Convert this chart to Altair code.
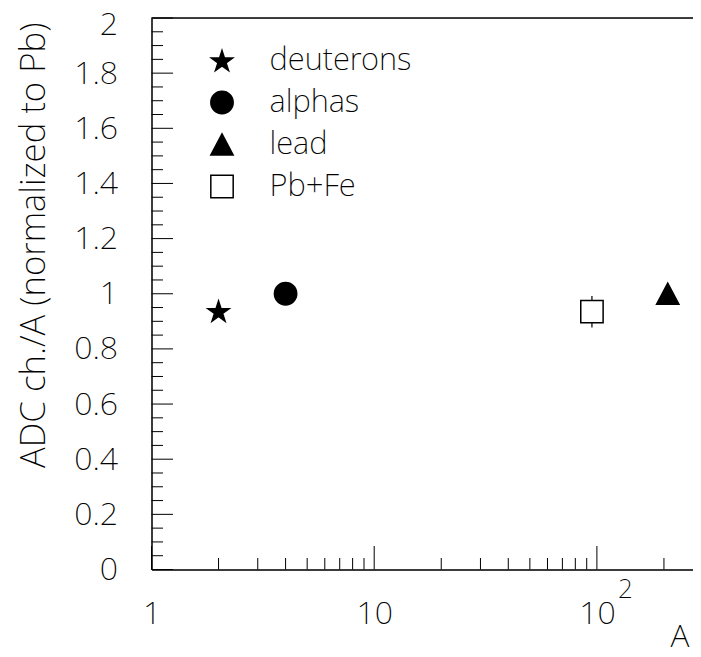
import altair as alt
import pandas as pd

# ---- data ----
series = ["deuterons", "alphas", "lead", "Pb+Fe"]
mass_A = [2, 4, 208, 95]
ratio = [0.937, 1.0, 1.0, 0.935]
ratio_err = [0.0, 0.0, 0.0, 0.057]

x_major = [1, 10, 100]
x_minor = [2, 3, 4, 5, 6, 7, 8, 9, 20, 30, 40, 50, 60, 70, 80, 90, 200]
y_major = [0, 0.2, 0.4, 0.6, 0.8, 1.0, 1.2, 1.4, 1.6, 1.8, 2.0]
y_minor = [0.05, 0.1, 0.15, 0.25, 0.3, 0.35, 0.45, 0.5, 0.55, 0.65, 0.7, 0.75,
           0.85, 0.9, 0.95, 1.05, 1.1, 1.15, 1.25, 1.3, 1.35, 1.45, 1.5, 1.55,
           1.65, 1.7, 1.75, 1.85, 1.9, 1.95]

# ---- layout / style ----
W, H = 541.5, 551.5
FONT = "Noto Sans"
FW = 200
FS = 32
TFS = 35
X_MAX = 270.1

star_path = ("M0,-0.905L0.2245,-0.2135L0.951,-0.2135L0.363,0.2135L0.588,0.905"
             "L0,0.4775L-0.588,0.905L-0.363,0.2135L-0.951,-0.2135L-0.2245,-0.2135Z")
tri_path = "M0,-0.95L1,0.95L-1,0.95Z"

pts = pd.DataFrame({"series": series, "A": mass_A, "ratio": ratio, "err": ratio_err})
pts["lo"] = pts["ratio"] - pts["err"]
pts["hi"] = pts["ratio"] + pts["err"]
err_df = pts[pts["err"] > 0]

x_scale = alt.Scale(type="log", domain=[1, X_MAX], nice=False)
y_scale = alt.Scale(domain=[0, 2], nice=False, zero=False)

x_axis = alt.Axis(
    values=x_major, labelExpr="datum.value >= 100 ? '10' : datum.label",
    ticks=False, tickSize=0, grid=False, domainColor="black", domainWidth=1.5,
    labelFont=FONT, labelFontSize=FS, labelFontWeight=FW, labelColor="black",
    labelPadding=29, labelOverlap=False, labelFlush=False, labelBound=False,
    title="A", titleFont=FONT, titleFontSize=FS, titleFontWeight=FW, titleColor="black",
    titleX=W - 4, titleY=77, titleAlign="right", titleBaseline="alphabetic",
)
y_axis = alt.Axis(
    values=y_major, format="~g",
    ticks=False, tickSize=0, grid=False, domainColor="black", domainWidth=1.5,
    labelFont=FONT, labelFontSize=FS, labelFontWeight=FW, labelColor="black",
    labelPadding=34, labelOverlap=False, labelFlush=False, labelBound=False,
    labelOffset={"expr": "datum.value == 2 ? 6 : 0"},
    title="ADC ch./A (normalized to Pb)", titleFont=FONT, titleFontSize=TFS,
    titleFontWeight=FW, titleColor="black", titleAngle=-90,
    titleX=-107.5, titleY=4, titleAlign="right", titleBaseline="alphabetic",
)

frame_df = pd.DataFrame({"k": [0]})
top_border = alt.Chart(frame_df).mark_rule(color="black", strokeWidth=1.5).encode(
    x=alt.value(0), x2=alt.value(W + 5), y=alt.value(0))

xmaj = alt.Chart(pd.DataFrame({"A": x_major})).mark_rule(color="black", strokeWidth=1).encode(
    x=alt.X("A:Q", scale=x_scale, axis=x_axis), y=alt.value(H), y2=alt.value(H - 23.5))
xmin = alt.Chart(pd.DataFrame({"A": x_minor})).mark_rule(color="black", strokeWidth=1).encode(
    x=alt.X("A:Q", scale=x_scale), y=alt.value(H), y2=alt.value(H - 11.5))
ymaj = alt.Chart(pd.DataFrame({"ratio": y_major})).mark_rule(color="black", strokeWidth=1).encode(
    y=alt.Y("ratio:Q", scale=y_scale, axis=y_axis), x=alt.value(0), x2=alt.value(21.5))
ymin = alt.Chart(pd.DataFrame({"ratio": y_minor})).mark_rule(color="black", strokeWidth=1).encode(
    y=alt.Y("ratio:Q", scale=y_scale), x=alt.value(0), x2=alt.value(11.5))

errs = alt.Chart(err_df).mark_rule(color="black", strokeWidth=1.2).encode(
    x=alt.X("A:Q", scale=x_scale),
    y=alt.Y("lo:Q", scale=y_scale), y2="hi:Q")

legend = alt.Legend(
    title=None, orient="none", legendX=55, legendY=27, padding=0,
    labelFont=FONT, labelFontSize=31, labelFontWeight=FW, labelColor="black",
    labelOffset=32, rowPadding=10, symbolSize=500, symbolStrokeWidth=1.5,
    symbolStrokeColor="black", labelLimit=400,
)
points = alt.Chart(pts).mark_point(filled=True, size=500, stroke="black",
                                   strokeWidth=1.5, opacity=1).encode(
    x=alt.X("A:Q", scale=x_scale),
    y=alt.Y("ratio:Q", scale=y_scale),
    shape=alt.Shape("series:N", scale=alt.Scale(domain=series,
                    range=[star_path, "circle", tri_path, "square"]), legend=legend),
    fill=alt.Fill("series:N", scale=alt.Scale(domain=series,
                  range=["black", "black", "black", "white"]), legend=legend),
    stroke=alt.Stroke("series:N", scale=alt.Scale(domain=series,
                      range=["black", "black", "black", "black"]), legend=legend),
)

sup = alt.Chart(pd.DataFrame({"A": [100], "t": ["2"]})).mark_text(
    font=FONT, fontSize=26, fontWeight=FW, color="black", align="left",
    baseline="alphabetic", dx=21).encode(
    x=alt.X("A:Q", scale=x_scale), y=alt.value(H + 28), text="t:N")

chart = alt.layer(top_border, xmin, xmaj, ymin, ymaj, errs, points, sup).properties(
    width=W, height=H,
    padding={"left": 143.5, "top": 10, "right": 0, "bottom": 79.5},
    autosize=alt.AutoSizeParams(type="none"),
).configure_view(stroke=None).configure(background="white")

chart.save("out.html", embed_options={"renderer": "svg", "actions": False})
